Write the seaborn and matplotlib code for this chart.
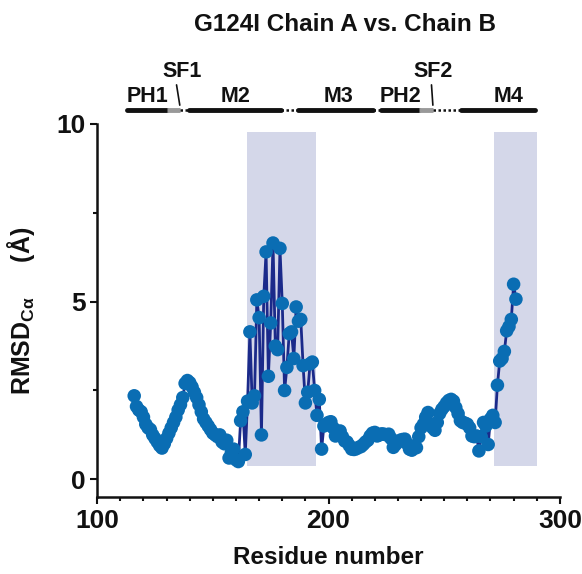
import numpy as np
import pandas as pd
import matplotlib
matplotlib.use("Agg")
import matplotlib.pyplot as plt
from matplotlib.ticker import MultipleLocator
import seaborn as sns

# residue 116 .. 281, one RMSD value per residue
residues = np.arange(116, 282)
rmsd = [
    2.35, 2.05, 1.95, 1.9, 1.75, 1.55, 1.45, 1.4, 1.25, 1.15, 1.05, 0.95,
    0.88, 1.0, 1.15, 1.3, 1.45, 1.6, 1.75, 1.95, 2.1, 2.3, 2.7, 2.78,
    2.72, 2.6, 2.45, 2.3, 2.1, 1.9, 1.7, 1.6, 1.5, 1.4, 1.3, 1.25,
    1.2, 1.25, 1.05, 1.0, 1.1, 0.6, 0.75, 0.85, 0.55, 0.5, 1.65, 1.9,
    0.7, 2.2, 4.15, 2.15, 2.35, 5.05, 4.55, 1.25, 5.15, 6.4, 2.9, 4.4,
    6.65, 3.75, 3.65, 6.5, 4.95, 2.5, 3.15, 4.1, 4.15, 3.4, 4.85, 4.45,
    4.5, 3.2, 2.15, 2.45, 3.25, 3.3, 2.5, 1.8, 2.25, 0.85, 1.5, 1.55,
    1.6, 1.62, 1.45, 1.22, 1.35, 1.36, 1.2, 1.08, 1.05, 0.95, 0.85, 0.84,
    0.86, 0.9, 0.92, 0.98, 1.05, 1.1, 1.22, 1.3, 1.32, 1.22, 1.25, 1.28,
    1.27, 1.25, 1.27, 1.15, 0.9, 0.98, 1.05, 1.1, 1.12, 1.13, 1.0, 0.85,
    0.82, 0.94, 0.89, 1.2, 1.45, 1.55, 1.75, 1.88, 1.55, 1.45, 1.38, 1.6,
    1.85, 1.97, 2.05, 2.15, 2.22, 2.25, 2.2, 2.02, 1.85, 1.65, 1.6, 1.58,
    1.55, 1.45, 1.22, 1.2, 1.22, 0.8, 1.2, 1.6, 1.5, 0.98, 1.7, 1.8,
    1.6, 2.65, 3.33, 3.4, 3.6, 4.18, 4.3, 4.5, 5.49, 5.07,
]

# shaded regions (residue ranges)
shade_start = [164.8, 271.4]
shade_end = [194.4, 290.0]
shade_low, shade_high = 0.37, 9.77

# topology bar above the plot
seg_start = [112.9, 130.0, 135.6, 139.5, 179.4, 186.7, 219.3, 222.7, 239.1, 245.1, 257.1]
seg_end = [130.0, 135.6, 139.5, 179.4, 186.7, 219.3, 222.7, 239.1, 245.1, 257.1, 289.3]
seg_kind = ["solid", "grey", "dot", "solid", "dot", "solid", "dot", "solid", "grey", "dot", "solid"]

domain_names = ["PH1", "M2", "M3", "PH2", "M4"]
domain_pos = [121.7, 159.9, 204.3, 231.0, 277.8]
sf_names = ["SF1", "SF2"]
sf_pos = [136.9, 245.4]
sf_tick = [(134.3, 135.7), (244.5, 245.1)]

df = pd.DataFrame({"residue": residues, "rmsd": rmsd})

sns.set_style("ticks")
plt.rcParams["font.family"] = ["Liberation Sans", "DejaVu Sans"]
plt.rcParams["font.weight"] = "bold"
plt.rcParams["mathtext.fontset"] = "custom"
plt.rcParams["mathtext.rm"] = "Liberation Sans"
plt.rcParams["mathtext.it"] = "Liberation Sans:italic"
for key in ("text.color", "axes.labelcolor", "xtick.color", "ytick.color"):
    plt.rcParams[key] = "#111111"

fig = plt.figure(figsize=(5.82, 5.74), dpi=100)
ax = fig.add_axes([0.167, 0.134, 0.795, 0.650])

for s, e in zip(shade_start, shade_end):
    ax.fill_between([s, e], shade_low, shade_high, color="#d4d7e9", lw=0, zorder=0)

sns.lineplot(data=df, x="residue", y="rmsd", ax=ax, color="#1b2a8a", lw=2.0, zorder=2)
sns.scatterplot(data=df, x="residue", y="rmsd", ax=ax, color="#0a6db3", s=95,
                edgecolor="none", zorder=3)

ax.set_xlim(100, 300)
ax.set_ylim(-0.5, 10)
ax.xaxis.set_major_locator(MultipleLocator(100))
ax.xaxis.set_minor_locator(MultipleLocator(10))
ax.yaxis.set_major_locator(MultipleLocator(5))
ax.yaxis.set_minor_locator(MultipleLocator(2.5))
ax.spines["top"].set_visible(False)
ax.spines["right"].set_visible(False)
for sp in ("left", "bottom"):
    ax.spines[sp].set_linewidth(1.8)
    ax.spines[sp].set_color("#111111")
ax.spines["left"].set_bounds(-0.5, 10)
ax.tick_params(which="major", length=5, width=1.5, labelsize=19, color="#111111")
ax.tick_params(which="minor", length=3, width=1.5, color="#111111")
for lab in ax.get_xticklabels() + ax.get_yticklabels():
    lab.set_fontweight("bold")

ax.set_xlabel("Residue number", fontsize=17.5, fontweight="bold")
ax.xaxis.set_label_coords(0.5, -0.13)
ax.set_ylabel(r"RMSD$_{\mathrm{C\alpha}}$     (Å)", fontsize=18, fontweight="bold")
ax.yaxis.set_label_coords(-0.13, 0.5)

# topology bar
bar_y = 10.39
for s, e, k in zip(seg_start, seg_end, seg_kind):
    if k == "solid":
        ax.plot([s, e], [bar_y, bar_y], color="#111111", lw=3.5, solid_capstyle="round", clip_on=False)
    elif k == "grey":
        ax.plot([s, e], [bar_y, bar_y], color="#999999", lw=3.5, solid_capstyle="butt", clip_on=False)
    else:
        ax.plot([s, e], [bar_y, bar_y], color="#111111", lw=1.8, ls=(0, (1, 1)), clip_on=False)

for name, x in zip(domain_names, domain_pos):
    ax.text(x, 10.76, name, ha="center", va="center", fontsize=15.5, fontweight="bold", clip_on=False)
for name, x, (a, b) in zip(sf_names, sf_pos, sf_tick):
    ax.text(x, 11.48, name, ha="center", va="center", fontsize=15.5, fontweight="bold", clip_on=False)
    ax.plot([a, b], [11.1, 10.53], color="#111111", lw=1.2, clip_on=False)

fig.text(0.592, 0.958, "G124I Chain A vs. Chain B", ha="center", va="center",
         fontsize=17.5, fontweight="bold")

fig.savefig("out.png", dpi=100)
